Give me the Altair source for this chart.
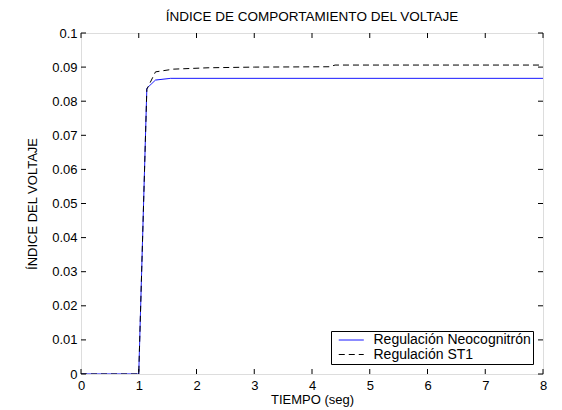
import altair as alt
import pandas as pd

# --- data ---
t_neo = [0.0, 1.0, 1.14, 1.29, 1.55, 8.0]
v_neo = [0.0, 0.0, 0.0838, 0.0862, 0.0867, 0.0867]

t_st1 = [0.0, 1.0, 1.14, 1.29, 1.6, 2.2, 3.0, 4.3, 4.4, 8.0]
v_st1 = [0.0, 0.0, 0.0835, 0.0886, 0.0894, 0.0898, 0.0900, 0.0901, 0.0906, 0.0906]

series_names = ["Regulación Neocognitrón", "Regulación ST1"]
x_ticks = [0, 1, 2, 3, 4, 5, 6, 7, 8]
y_ticks = [0, 0.01, 0.02, 0.03, 0.04, 0.05, 0.06, 0.07, 0.08, 0.09, 0.1]

rows = []
for i, (t, v) in enumerate(zip(t_neo, v_neo)):
    rows.append({"t": t, "v": v, "serie": series_names[0], "o": i})
for i, (t, v) in enumerate(zip(t_st1, v_st1)):
    rows.append({"t": t, "v": v, "serie": series_names[1], "o": i})
df = pd.DataFrame(rows)

W, H = 462, 341
FONT = "Liberation Sans"
FS = 13

xscale = alt.Scale(domain=[0, 8], nice=False, zero=False)
yscale = alt.Scale(domain=[0, 0.1], nice=False, zero=False)

common_axis = dict(ticks=False, domain=False, grid=False, format="~g",
                   labelFont=FONT, labelFontSize=FS, titleFont=FONT,
                   titleFontSize=FS, titleFontWeight="normal",
                   labelColor="black", titleColor="black",
                   labelOverlap=False, labelFlush=False)
xaxis = alt.Axis(values=x_ticks, title="TIEMPO (seg)",
                 labelPadding=5, titlePadding=1, **common_axis)
yaxis = alt.Axis(values=y_ticks, title="ÍNDICE DEL VOLTAJE",
                 labelPadding=4, titlePadding=12, **common_axis)

lines = alt.Chart(df).mark_line(strokeWidth=1, clip=True).encode(
    x=alt.X("t:Q", scale=xscale, axis=xaxis),
    y=alt.Y("v:Q", scale=yscale, axis=yaxis),
    color=alt.Color("serie:N",
                    scale=alt.Scale(domain=series_names, range=["#0000ff", "#000000"]),
                    legend=alt.Legend(title=None, orient="bottom-right", offset=10,
                                      symbolType="M-0.2,0H3.8", symbolSize=156,
                                      symbolStrokeWidth=1, labelFontSize=14,
                                      labelFont=FONT, labelColor="black",
                                      strokeColor="black",
                                      fillColor="white", padding=2,
                                      rowPadding=0.5, labelOffset=26.5)),
    strokeDash=alt.StrokeDash("serie:N",
                              scale=alt.Scale(domain=series_names, range=[[1, 0], [6, 4]]),
                              legend=None),
    order="o:Q",
)

xt = pd.DataFrame({"t": x_ticks})
yt = pd.DataFrame({"v": y_ticks})
TL = 5
xb = alt.Chart(xt).mark_rule(color="black", strokeWidth=1).encode(
    x=alt.X("t:Q", scale=xscale, axis=xaxis), y=alt.value(H), y2=alt.value(H - TL))
xtp = alt.Chart(xt).mark_rule(color="black", strokeWidth=1).encode(
    x=alt.X("t:Q", scale=xscale, axis=xaxis), y=alt.value(0), y2=alt.value(TL))
yl = alt.Chart(yt).mark_rule(color="black", strokeWidth=1).encode(
    y=alt.Y("v:Q", scale=yscale, axis=yaxis), x=alt.value(0), x2=alt.value(TL))
yr = alt.Chart(yt).mark_rule(color="black", strokeWidth=1).encode(
    y=alt.Y("v:Q", scale=yscale, axis=yaxis), x=alt.value(W), x2=alt.value(W - TL))

chart = alt.layer(lines, xb, xtp, yl, yr).properties(
    width=W, height=H,
    title=alt.Title("ÍNDICE DE COMPORTAMIENTO DEL VOLTAJE", fontSize=13.5,
                    font=FONT, fontWeight="normal", color="black", offset=4),
    autosize=alt.AutoSizeParams(type="none"),
    padding={"left": 73, "top": 25, "right": 11, "bottom": 36},
).configure_view(stroke="black", strokeWidth=1).configure(background="white")

chart.save("out.html", embed_options={"renderer": "svg", "actions": False})
